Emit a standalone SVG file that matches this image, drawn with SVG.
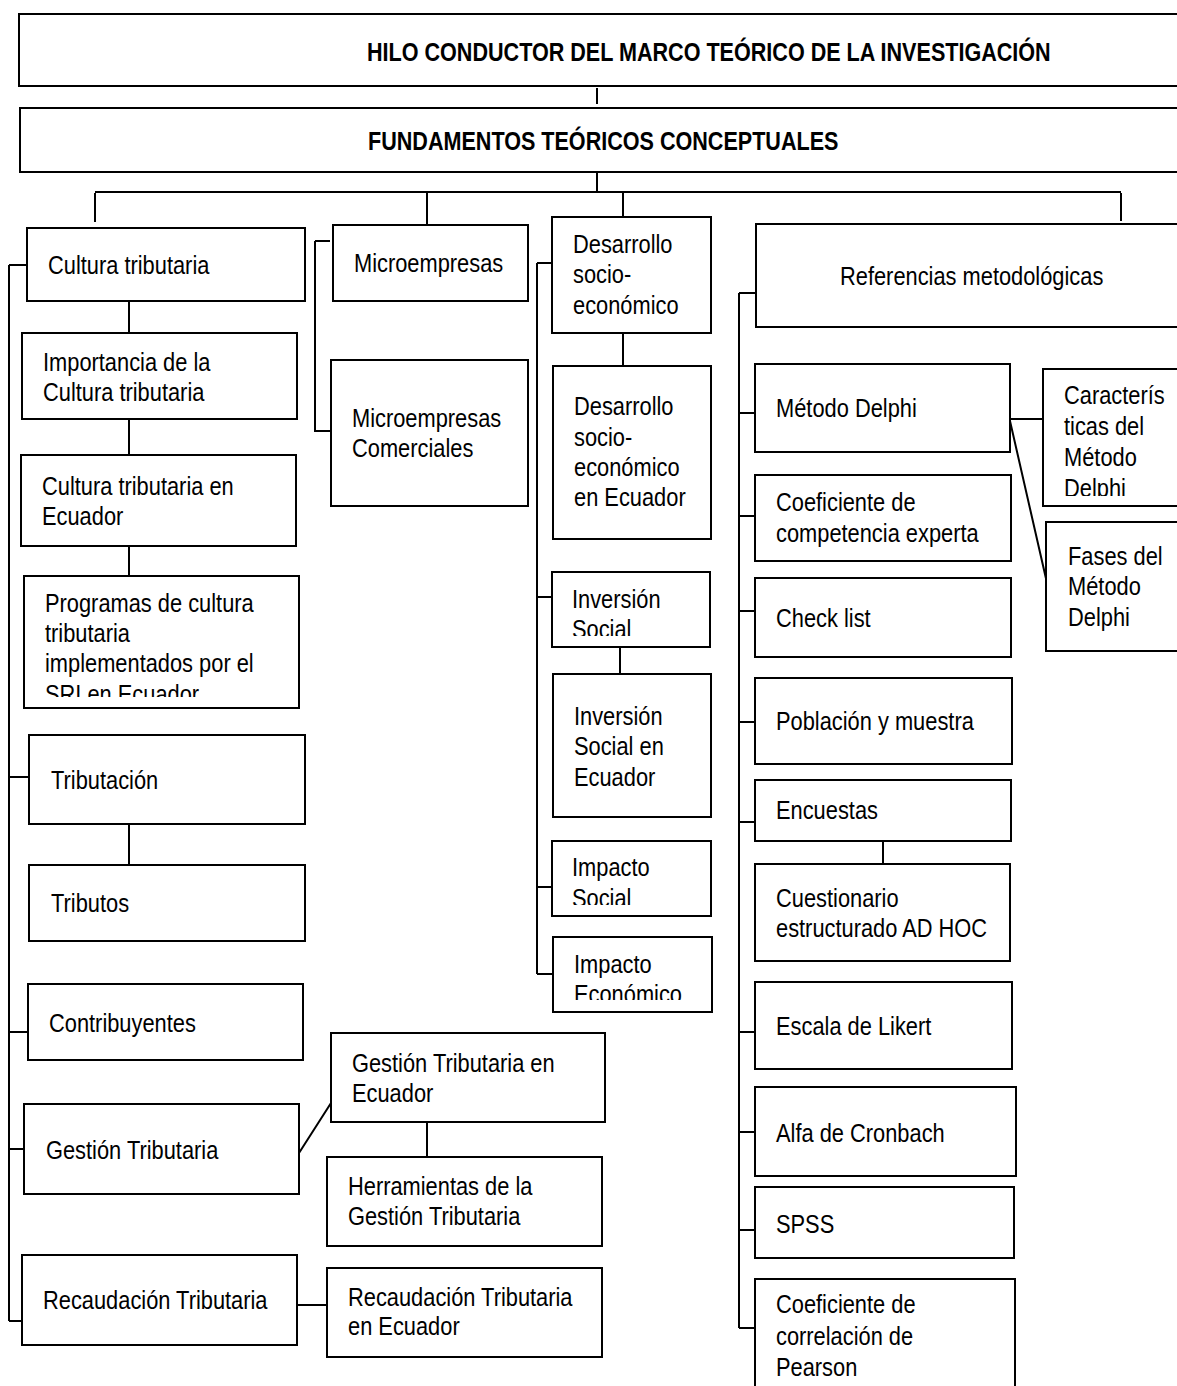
<svg xmlns="http://www.w3.org/2000/svg" width="1177" height="1386" viewBox="0 0 1177 1386">
<style>
.b{fill:#fff;stroke:#000;stroke-width:2}
.c{fill:none;stroke:#000;stroke-width:2}
.t{font-family:"Liberation Sans",Arial,sans-serif;font-size:26px;fill:#000}
.h{font-family:"Liberation Sans",Arial,sans-serif;font-size:26px;font-weight:bold;fill:#000}
</style>
<defs>
<clipPath id="cProg"><rect x="20" y="570" width="290" height="127"/></clipPath>
<clipPath id="cInv"><rect x="550" y="570" width="170" height="66"/></clipPath>
<clipPath id="cImpS"><rect x="550" y="840" width="170" height="65"/></clipPath>
<clipPath id="cImpE"><rect x="550" y="935" width="170" height="65"/></clipPath>
<clipPath id="cCar"><rect x="1040" y="365" width="140" height="131"/></clipPath>
</defs>
<rect width="1177" height="1386" fill="#fff"/>

<g id="connectors">
<path class="c" d="M597 88V104 M597 172V193 M95 192H1121 M95 193V222 M427 193V227 M623 193V218 M1121 193V221"/>
<path class="c" d="M9 265V1321 M9 265H27 M9 777H29 M9 1032H28 M9 1149H24 M9 1321H22"/>
<path class="c" d="M129 302V333 M129 419V455 M129 546V576 M129 824V865"/>
<path class="c" d="M315 241H330 M315 241V431H331"/>
<path class="c" d="M299 1153L331 1103 M427 1122V1157 M297 1305H327"/>
<path class="c" d="M537 263V974 M537 263H552 M537 597H552 M537 887H552 M537 974H553 M623 333V366 M620 647V674"/>
<path class="c" d="M739 293V1328 M739 293H756 M739 413H755 M739 516H755 M739 611H755 M739 722H755 M739 822H755 M739 1032H755 M739 1132H755 M739 1230H755 M739 1328H755"/>
<path class="c" d="M1010 419H1043 M1010 421L1047 583 M883 821V864"/>
</g>

<g id="n-hilo"><rect class="b" x="19" y="14" width="1200" height="72"/>
<text class="h" transform="translate(367,61) scale(0.83,1)">HILO CONDUCTOR DEL MARCO TEÓRICO DE LA INVESTIGACIÓN</text></g>
<g id="n-fund"><rect class="b" x="20" y="108" width="1200" height="64"/>
<text class="h" transform="translate(368,150) scale(0.83,1)">FUNDAMENTOS TEÓRICOS CONCEPTUALES</text></g>

<g id="n-cultura"><rect class="b" x="27" y="228" width="278" height="73"/>
<text class="t" transform="translate(48,274) scale(0.84,1)">Cultura tributaria</text></g>
<g id="n-importancia"><rect class="b" x="22" y="333" width="275" height="86"/>
<text class="t" transform="translate(43,371) scale(0.84,1)"><tspan x="0" y="0">Importancia de la</tspan><tspan x="0" y="30">Cultura tributaria</tspan></text></g>
<g id="n-ctecuador"><rect class="b" x="21" y="455" width="275" height="91"/>
<text class="t" transform="translate(42,495) scale(0.84,1)"><tspan x="0" y="0">Cultura tributaria en</tspan><tspan x="0" y="30">Ecuador</tspan></text></g>
<g id="n-programas"><rect class="b" x="24" y="576" width="275" height="132"/>
<g clip-path="url(#cProg)"><text class="t" transform="translate(45,612) scale(0.84,1)"><tspan x="0" y="0">Programas de cultura</tspan><tspan x="0" y="30">tributaria</tspan><tspan x="0" y="60">implementados por el</tspan><tspan x="0" y="91">SRI en Ecuador</tspan></text></g></g>
<g id="n-tributacion"><rect class="b" x="29" y="735" width="276" height="89"/>
<text class="t" transform="translate(51,789) scale(0.84,1)">Tributación</text></g>
<g id="n-tributos"><rect class="b" x="29" y="865" width="276" height="76"/>
<text class="t" transform="translate(51,912) scale(0.84,1)">Tributos</text></g>
<g id="n-contribuyentes"><rect class="b" x="28" y="984" width="275" height="76"/>
<text class="t" transform="translate(49,1032) scale(0.84,1)">Contribuyentes</text></g>
<g id="n-gestion"><rect class="b" x="24" y="1104" width="275" height="90"/>
<text class="t" transform="translate(46,1159) scale(0.84,1)">Gestión Tributaria</text></g>
<g id="n-recaudacion"><rect class="b" x="22" y="1255" width="275" height="90"/>
<text class="t" transform="translate(43,1309) scale(0.84,1)">Recaudación Tributaria</text></g>
<g id="n-gestionec"><rect class="b" x="331" y="1033" width="274" height="89"/>
<text class="t" transform="translate(352,1072) scale(0.84,1)"><tspan x="0" y="0">Gestión Tributaria en</tspan><tspan x="0" y="30">Ecuador</tspan></text></g>
<g id="n-herramientas"><rect class="b" x="327" y="1157" width="275" height="89"/>
<text class="t" transform="translate(348,1195) scale(0.84,1)"><tspan x="0" y="0">Herramientas de la</tspan><tspan x="0" y="30">Gestión Tributaria</tspan></text></g>
<g id="n-recaudec"><rect class="b" x="327" y="1268" width="275" height="89"/>
<text class="t" transform="translate(348,1306) scale(0.84,1)"><tspan x="0" y="0">Recaudación Tributaria</tspan><tspan x="0" y="29">en Ecuador</tspan></text></g>

<g id="n-micro"><rect class="b" x="333" y="225" width="195" height="76"/>
<text class="t" transform="translate(354,272) scale(0.84,1)">Microempresas</text></g>
<g id="n-microcom"><rect class="b" x="331" y="360" width="197" height="146"/>
<text class="t" transform="translate(352,427) scale(0.84,1)"><tspan x="0" y="0">Microempresas</tspan><tspan x="0" y="30">Comerciales</tspan></text></g>

<g id="n-desarrollo"><rect class="b" x="552" y="217" width="159" height="116"/>
<text class="t" transform="translate(573,253) scale(0.84,1)"><tspan x="0" y="0">Desarrollo</tspan><tspan x="0" y="30">socio-</tspan><tspan x="0" y="61">económico</tspan></text></g>
<g id="n-desarrolloec"><rect class="b" x="553" y="366" width="158" height="173"/>
<text class="t" transform="translate(574,415) scale(0.84,1)"><tspan x="0" y="0">Desarrollo</tspan><tspan x="0" y="31">socio-</tspan><tspan x="0" y="61">económico</tspan><tspan x="0" y="91">en Ecuador</tspan></text></g>
<g id="n-inversion"><rect class="b" x="552" y="572" width="158" height="75"/>
<g clip-path="url(#cInv)"><text class="t" transform="translate(572,608) scale(0.84,1)"><tspan x="0" y="0">Inversión</tspan><tspan x="0" y="30">Social</tspan></text></g></g>
<g id="n-inversionec"><rect class="b" x="553" y="674" width="158" height="143"/>
<text class="t" transform="translate(574,725) scale(0.84,1)"><tspan x="0" y="0">Inversión</tspan><tspan x="0" y="30">Social en</tspan><tspan x="0" y="61">Ecuador</tspan></text></g>
<g id="n-impsocial"><rect class="b" x="552" y="841" width="159" height="75"/>
<g clip-path="url(#cImpS)"><text class="t" transform="translate(572,876) scale(0.84,1)"><tspan x="0" y="0">Impacto</tspan><tspan x="0" y="31">Social</tspan></text></g></g>
<g id="n-impecon"><rect class="b" x="553" y="937" width="159" height="75"/>
<g clip-path="url(#cImpE)"><text class="t" transform="translate(574,973) scale(0.84,1)"><tspan x="0" y="0">Impacto</tspan><tspan x="0" y="30">Económico</tspan></text></g></g>

<g id="n-referencias"><rect class="b" x="756" y="224" width="450" height="103"/>
<text class="t" transform="translate(840,285) scale(0.84,1)">Referencias metodológicas</text></g>
<g id="n-delphi"><rect class="b" x="755" y="364" width="255" height="88"/>
<text class="t" transform="translate(776,417) scale(0.84,1)">Método Delphi</text></g>
<g id="n-coef"><rect class="b" x="755" y="475" width="256" height="86"/>
<text class="t" transform="translate(776,511) scale(0.84,1)"><tspan x="0" y="0">Coeficiente de</tspan><tspan x="0" y="31">competencia experta</tspan></text></g>
<g id="n-check"><rect class="b" x="755" y="578" width="256" height="79"/>
<text class="t" transform="translate(776,627) scale(0.84,1)">Check list</text></g>
<g id="n-poblacion"><rect class="b" x="755" y="678" width="257" height="86"/>
<text class="t" transform="translate(776,730) scale(0.84,1)">Población y muestra</text></g>
<g id="n-encuestas"><rect class="b" x="755" y="780" width="256" height="61"/>
<text class="t" transform="translate(776,819) scale(0.84,1)">Encuestas</text></g>
<g id="n-cuestionario"><rect class="b" x="755" y="864" width="255" height="97"/>
<text class="t" transform="translate(776,907) scale(0.84,1)"><tspan x="0" y="0">Cuestionario</tspan><tspan x="0" y="30">estructurado AD HOC</tspan></text></g>
<g id="n-likert"><rect class="b" x="755" y="982" width="257" height="87"/>
<text class="t" transform="translate(776,1035) scale(0.84,1)">Escala de Likert</text></g>
<g id="n-alfa"><rect class="b" x="755" y="1087" width="261" height="89"/>
<text class="t" transform="translate(776,1142) scale(0.84,1)">Alfa de Cronbach</text></g>
<g id="n-spss"><rect class="b" x="755" y="1187" width="259" height="71"/>
<text class="t" transform="translate(776,1233) scale(0.84,1)">SPSS</text></g>
<g id="n-pearson"><rect class="b" x="755" y="1279" width="260" height="130"/>
<text class="t" transform="translate(776,1313) scale(0.84,1)"><tspan x="0" y="0">Coeficiente de</tspan><tspan x="0" y="32">correlación de</tspan><tspan x="0" y="63">Pearson</tspan></text></g>
<g id="n-caract"><rect class="b" x="1043" y="369" width="200" height="137"/>
<g clip-path="url(#cCar)"><text class="t" transform="translate(1064,404) scale(0.84,1)"><tspan x="0" y="0">Caracterís</tspan><tspan x="0" y="31">ticas del</tspan><tspan x="0" y="62">Método</tspan><tspan x="0" y="93">Delphi</tspan></text></g></g>
<g id="n-fases"><rect class="b" x="1046" y="522" width="200" height="129"/>
<text class="t" transform="translate(1068,565) scale(0.84,1)"><tspan x="0" y="0">Fases del</tspan><tspan x="0" y="30">Método</tspan><tspan x="0" y="61">Delphi</tspan></text></g>
</svg>
